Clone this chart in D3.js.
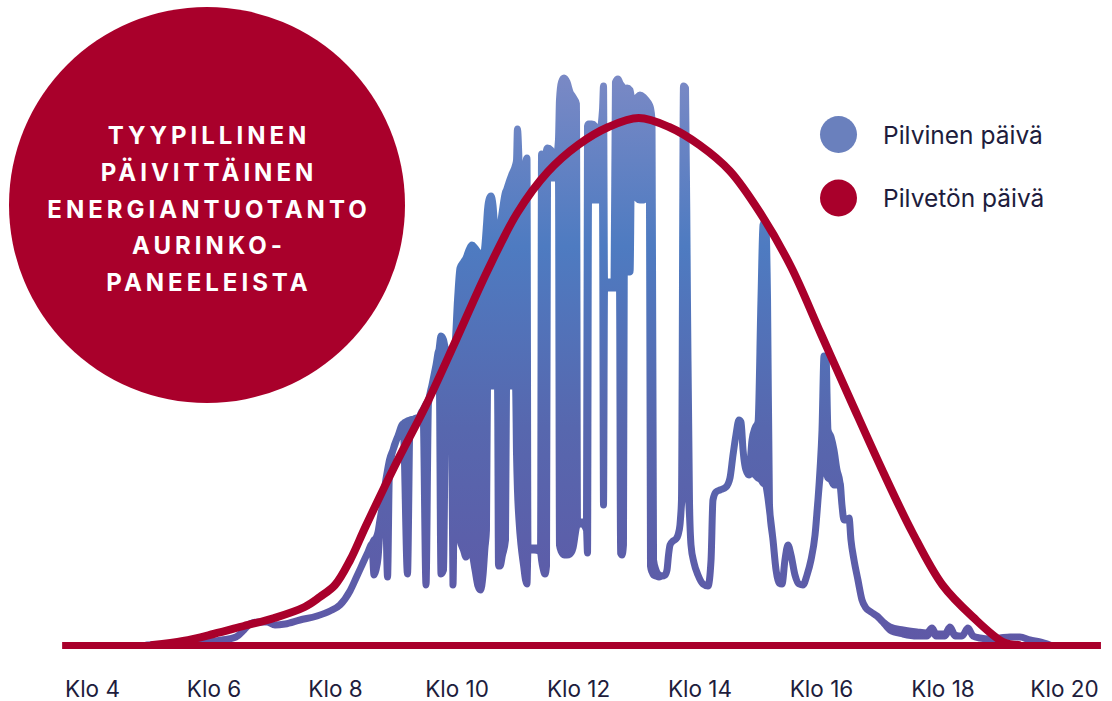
<!DOCTYPE html>
<html>
<head>
<meta charset="utf-8">
<script src="https://cdn.jsdelivr.net/npm/d3@7"></script>
<style>
  html, body { margin: 0; padding: 0; background: #ffffff; }
  svg { display: block; }
</style>
</head>
<body>
<svg id="chart" width="1112" height="701"></svg>
<script>
// Hour ticks and their labels
const hourTicks = [4, 6, 8, 10, 12, 14, 16, 18, 20];
const tickLabels = ["Klo 4", "Klo 6", "Klo 8", "Klo 10", "Klo 12", "Klo 14", "Klo 16", "Klo 18", "Klo 20"];

// Clear day: output (kW) against minutes after midnight
const clearTime = [300, 330, 360, 390, 420, 450, 465, 480, 495, 510, 540, 570, 600, 630, 660, 690,
  720, 750, 780, 810, 840, 870, 900, 930, 960, 990, 1020, 1050, 1080, 1110, 1140, 1155];
const clearPower = [0, 0.04, 0.11, 0.19, 0.27, 0.38, 0.48, 0.60, 0.85, 1.18, 1.81, 2.40, 3.06, 3.73, 4.32, 4.73,
  5.00, 5.18, 5.27, 5.18, 5.00, 4.74, 4.32, 3.79, 3.11, 2.43, 1.76, 1.13, 0.60, 0.28, 0.03, 0];

// Cloudy day: min / max output (kW) within each sample interval
const cloudyTime = [
  294.3, 336.8, 368.4, 382.2, 390.1, 396.0, 404.0, 412.8, 420.7, 430.6,
  445.4, 462.2, 475.1, 484.9, 494.8, 501.7, 506.7, 512.6, 516.5, 518.5,
  520.5, 522.5, 524.4, 526.9, 529.4, 531.9, 533.8, 537.3, 542.2, 547.2,
  551.6, 554.1, 558.0, 563.0, 566.9, 569.9, 572.3, 575.8, 579.8, 582.7,
  584.7, 587.2, 589.6, 592.6, 594.6, 596.5,
  598.5, 601.0, 603.5, 606.9, 609.4, 612.3, 615.3, 618.3, 621.2, 623.7,
  626.2, 628.1, 629.6, 630.6, 632.6, 634.1, 636.0, 638.0, 640.5, 641.5,
  643.0, 645.4, 648.4, 649.4, 651.9, 654.8, 658.3, 659.3, 660.2, 661.7,
  663.7, 666.2, 668.2, 669.6, 670.6, 676.5, 683.0, 684.0, 685.4, 687.4,
  688.9, 689.9, 693.3, 697.3, 700.7, 701.7, 703.7, 706.2, 709.1, 712.1,
  715.1, 718.5, 719.5, 724.0, 728.4, 729.4, 730.4, 733.8, 736.8, 739.8,
  744.2, 745.2, 746.2, 751.6, 755.6, 757.0, 759.5, 761.0, 762.0, 763.5,
  764.9, 765.9, 768.4, 771.4, 773.3, 775.3, 777.8, 781.2, 784.7, 787.2,
  790.6, 791.6, 793.1, 794.6,
  797.0, 800.0, 803.0, 805.9, 807.9, 809.4, 810.9, 813.8, 816.8,
  818.8, 820.7, 822.2, 824.2, 826.2, 828.1, 830.1, 831.6, 834.6, 838.5,
  843.5, 848.4, 851.4, 853.3, 856.3, 860.2, 866.2, 870.1, 873.1, 876.0,
  879.0, 881.0, 883.0, 885.9, 888.9, 891.9, 894.8, 897.8, 900.7, 902.7,
  905.2, 907.2, 909.1, 912.6, 915.6, 918.5, 921.5, 924.4, 927.4, 930.4,
  934.3, 938.3, 942.2, 946.2, 950.1, 954.1, 957.0, 959.0, 961.0, 963.0,
  964.9, 966.9, 969.9, 972.8, 975.8, 978.8, 980.7, 982.7, 985.7, 987.7,
  989.6, 992.6, 996.5, 1000.5, 1004.4, 1009.4, 1015.3, 1021.2, 1028.1, 1041.0,
  1054.8, 1064.7, 1069.6, 1073.6, 1082.5, 1087.4, 1092.3, 1099.3, 1105.2, 1110.1,
  1117.0, 1126.9, 1136.8, 1146.7, 1156.5, 1166.4, 1176.3, 1186.2
];
const cloudyMax = [
  0, 0.02, 0.05, 0.08, 0.15, 0.21, 0.23, 0.23, 0.20, 0.21,
  0.25, 0.29, 0.34, 0.40, 0.54, 0.69, 0.80, 0.93, 1.01, 1.05,
  1.07, 1.13, 1.25, 1.40, 1.60, 1.75, 1.85, 1.95, 2.09, 2.21,
  2.24, 2.25, 2.26, 2.28, 2.35, 2.41, 2.45, 2.60, 2.80, 2.95,
  3.09, 3.05, 2.95, 2.95, 2.93, 2.93,
  3.00, 3.45, 3.77, 3.83, 3.87, 3.95, 4.00, 3.97, 3.93, 3.90,
  3.87, 4.00, 4.20, 4.35, 4.47, 4.49, 4.40, 4.15, 4.05, 4.07,
  4.17, 4.35, 4.53, 4.55, 4.63, 4.71, 4.80, 4.85, 5.16, 4.85,
  4.05, 3.95, 4.80, 4.87, 0.97, 0.97, 0.97, 4.91, 4.55, 4.00,
  4.95, 4.97, 4.95, 4.80, 5.05, 5.45, 5.63, 5.67, 5.63, 5.53,
  5.48, 5.41, 1.23, 1.23, 1.23, 5.19, 5.21, 5.21, 5.19, 5.05,
  5.35, 5.59, 3.63, 3.63, 3.63, 5.63, 5.66, 5.63, 5.61, 5.59,
  5.57, 5.55, 5.57, 5.55, 5.45, 5.45, 5.47, 5.50, 5.48, 5.45,
  5.40, 5.37, 5.25, 0.85,
  0.75, 0.70, 0.69, 0.70, 0.75, 0.90, 1.00, 1.04, 1.06,
  1.10, 1.20, 1.45, 5.59, 5.57, 3.45, 1.45, 1.00, 0.82, 0.70,
  0.61, 0.59, 0.85, 1.45, 1.53, 1.55, 1.58, 1.67, 1.90, 2.10,
  2.25, 2.23, 1.95, 1.75, 1.73, 2.05, 2.17, 2.23, 3.45, 4.20,
  4.24, 3.45, 1.40, 1.05, 0.75, 0.62, 0.61, 0.85, 1.00, 0.90,
  0.70, 0.61, 0.60, 0.70, 0.85, 1.10, 1.45, 1.75, 2.15, 2.89,
  2.89, 2.15, 2.08, 1.95, 1.75, 1.62, 1.40, 1.25, 1.25, 1.27,
  1.05, 0.85, 0.65, 0.45, 0.37, 0.33, 0.29, 0.23, 0.18, 0.15,
  0.13, 0.12, 0.17, 0.11, 0.11, 0.18, 0.10, 0.09, 0.17, 0.09,
  0.07, 0.06, 0.07, 0.08, 0.08, 0.05, 0.03, 0
];
const cloudyMin = [
  0, 0.02, 0.05, 0.08, 0.15, 0.21, 0.23, 0.23, 0.20, 0.21,
  0.25, 0.29, 0.34, 0.40, 0.54, 0.69, 0.80, 0.93, 1.01, 0.70,
  0.75, 0.87, 1.15, 1.40, 1.60, 0.68, 1.77, 1.95, 2.09, 2.21,
  0.71, 2.21, 2.26, 2.28, 2.35, 0.60, 2.41, 2.60, 2.80, 2.95,
  0.71, 0.75, 2.85, 2.90, 2.85, 0.60,
  2.15, 1.25, 1.05, 0.95, 0.88, 0.97, 0.92, 0.75, 0.59, 0.55,
  0.70, 0.97, 1.15, 2.59, 2.59, 2.59, 2.59, 2.59, 2.59, 0.79,
  0.79, 0.90, 1.05, 2.59, 2.59, 2.59, 2.59, 1.90, 1.55, 1.25,
  1.00, 0.80, 0.65, 0.61, 0.95, 0.95, 0.93, 0.85, 0.77, 0.71,
  0.79, 4.67, 4.67, 4.67, 4.67, 1.00, 0.93, 0.90, 0.90, 0.91,
  0.97, 1.18, 1.21, 1.21, 1.15, 0.92, 4.45, 4.45, 4.45, 4.45,
  4.45, 1.40, 3.57, 3.57, 3.57, 3.57, 3.57, 3.57, 0.92, 0.90,
  1.00, 4.45, 3.75, 3.73, 5.30, 5.30, 4.47, 4.45, 4.45, 4.55,
  4.45, 0.79, 0.73, 0.70,
  0.69, 0.68, 0.69, 0.70, 0.75, 0.90, 1.00, 1.04, 1.06,
  1.10, 1.20, 1.40, 1.60, 1.75, 1.65, 1.30, 1.00, 0.82, 0.70,
  0.61, 0.59, 0.85, 1.45, 1.53, 1.55, 1.58, 1.67, 1.90, 2.10,
  2.25, 2.23, 1.95, 1.75, 1.70, 1.73, 1.70, 1.67, 1.65, 1.62,
  1.60, 1.50, 1.35, 1.05, 0.75, 0.62, 0.61, 0.85, 1.00, 0.90,
  0.70, 0.61, 0.60, 0.70, 0.85, 1.10, 1.45, 1.67, 1.75, 1.83,
  1.75, 1.67, 1.65, 1.60, 1.60, 1.62, 1.40, 1.25, 1.25, 1.27,
  1.05, 0.85, 0.65, 0.45, 0.37, 0.33, 0.29, 0.23, 0.15, 0.11,
  0.09, 0.09, 0.15, 0.09, 0.09, 0.17, 0.09, 0.09, 0.17, 0.09,
  0.07, 0.06, 0.07, 0.08, 0.08, 0.05, 0.03, 0
];

const legendLabels = ["Pilvinen päivä", "Pilvetön päivä"];
const titleLines = ["TYYPILLINEN", "PÄIVITTÄINEN", "ENERGIANTUOTANTO", "AURINKO-", "PANEELEISTA"];

// Time span covered by the baseline (minutes after midnight)
const axisSpan = [210, 1236];

const RED = "#a9002b";
const BLUE = "#6a80bd";
const TEXT = "#201c3c";

const svg = d3.select("#chart");

const x = d3.scaleLinear().domain([240, 1200]).range([92, 1064]);
const y = d3.scaleLinear().domain([0, 5.25]).range([645, 120]);
const xAxisScale = d3.scaleLinear().domain(axisSpan).range(axisSpan.map(x));

// Vertical gradient for the cloudy-day trace
const defs = svg.append("defs");
const grad = defs.append("linearGradient")
  .attr("id", "cloudyGrad")
  .attr("gradientUnits", "userSpaceOnUse")
  .attr("x1", 0).attr("x2", 0)
  .attr("y1", y(5.7)).attr("y2", y(0));
[[0, "#7a89c5"], [0.3, "#4e7bc1"], [0.62, "#5767ae"], [1, "#5f58a6"]].forEach(([o, c]) => {
  grad.append("stop").attr("offset", o).attr("stop-color", c);
});

// Cloudy day trace: band between min and max, outlined with a round stroke
const cloudy = cloudyTime.map((t, i) => ({ t, lo: cloudyMin[i], hi: cloudyMax[i] }));
const band = d3.area()
  .x(d => x(d.t))
  .y0(d => y(d.lo))
  .y1(d => y(d.hi))
  .curve(d3.curveMonotoneX);

svg.append("path")
  .datum(cloudy)
  .attr("d", band)
  .attr("fill", "url(#cloudyGrad)")
  .attr("stroke", "url(#cloudyGrad)")
  .attr("stroke-width", 7)
  .attr("stroke-linejoin", "round")
  .attr("stroke-linecap", "round");

// X axis: baseline plus hour labels
const axis = d3.axisBottom(xAxisScale)
  .tickValues(hourTicks.map(h => h * 60))
  .tickFormat((d, i) => tickLabels[i])
  .tickSize(0)
  .tickSizeOuter(0);

const gx = svg.append("g")
  .attr("transform", `translate(0,${y(0)})`)
  .call(axis);
gx.select(".domain")
  .attr("stroke", RED)
  .attr("stroke-width", 7);
gx.selectAll(".tick text")
  .attr("y", 52)
  .attr("dy", 0)
  .attr("fill", TEXT)
  .style("font-family", "Inter, 'Noto Sans', sans-serif")
  .style("font-size", "22.5px")
  .style("font-weight", 400);

// Clear day curve
const clear = clearTime.map((t, i) => ({ t, v: clearPower[i] }));
svg.append("path")
  .datum(clear)
  .attr("d", d3.line().x(d => x(d.t)).y(d => y(d.v)).curve(d3.curveCatmullRom.alpha(0.5)))
  .attr("fill", "none")
  .attr("stroke", RED)
  .attr("stroke-width", 8)
  .attr("stroke-linejoin", "round")
  .attr("stroke-linecap", "round");

// Title badge
const badge = svg.append("g");
badge.append("circle")
  .attr("cx", 207).attr("cy", 205).attr("r", 198)
  .attr("fill", RED);
badge.selectAll("text")
  .data(titleLines)
  .join("text")
  .attr("x", 209)
  .attr("y", (d, i) => 144 + i * 36.8)
  .attr("text-anchor", "middle")
  .attr("fill", "#ffffff")
  .style("font-family", "Inter, 'Noto Sans', sans-serif")
  .style("font-size", "24px")
  .style("font-weight", 700)
  .style("letter-spacing", "4px")
  .text(d => d);

// Legend
const legendColors = [BLUE, RED];
const legend = svg.append("g");
legendLabels.forEach((label, i) => {
  const cy = 134.5 + i * 63.5;
  legend.append("circle")
    .attr("cx", 838.5).attr("cy", cy).attr("r", 18.5)
    .attr("fill", legendColors[i]);
  legend.append("text")
    .attr("x", 883).attr("y", cy + 9)
    .attr("fill", TEXT)
    .style("font-family", "Inter, 'Noto Sans', sans-serif")
    .style("font-size", "24.5px")
    .style("font-weight", 400)
    .text(label);
});
</script>
</body>
</html>
